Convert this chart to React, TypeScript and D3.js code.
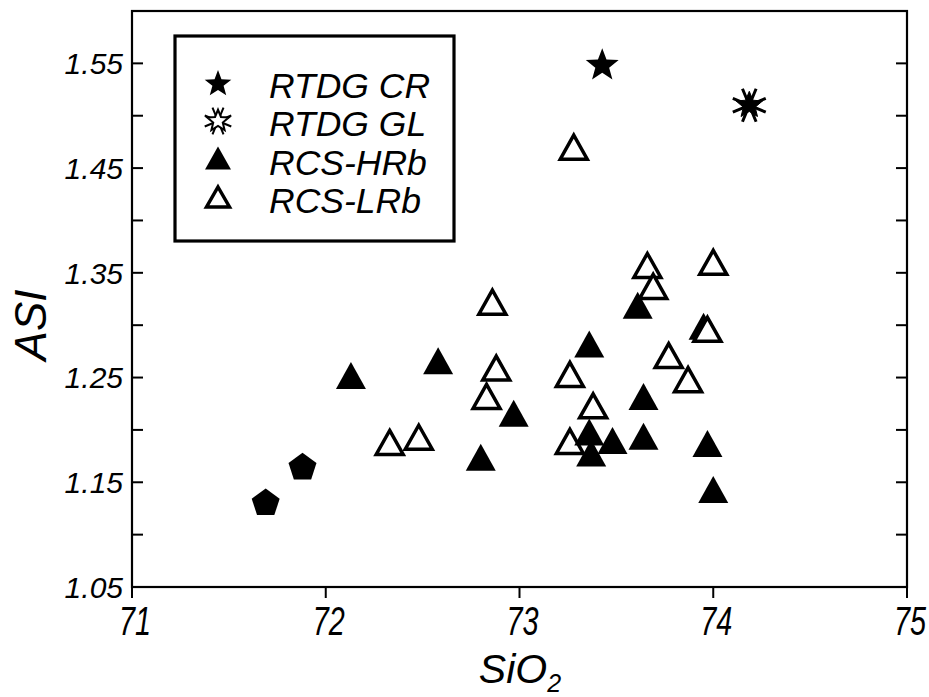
import React from "react";
import * as d3 from "d3";

const W = 929;
const H = 697;

// Data
const crX = [73.427];
const crY = [1.548];
const glX = [74.186];
const glY = [1.51];
const pentX = [71.69, 71.88];
const pentY = [1.131, 1.165];
const hrbX = [72.13, 72.58, 72.8, 72.97, 73.61, 73.95, 73.36, 73.64, 73.36, 73.48, 73.64, 73.37, 73.97, 74.0];
const hrbY = [1.252, 1.266, 1.174, 1.216, 1.319, 1.299, 1.282, 1.232, 1.198, 1.19, 1.194, 1.178, 1.187, 1.143];
const lrbX = [73.66, 74.0, 73.69, 72.86, 73.97, 73.77, 72.88, 73.26, 73.87, 72.83, 73.38, 73.26, 72.33, 72.48, 73.28];
const lrbY = [1.357, 1.36, 1.337, 1.322, 1.296, 1.271, 1.259, 1.253, 1.248, 1.232, 1.223, 1.189, 1.188, 1.193, 1.47];
// LRb points drawn above the filled triangles (index into lrb arrays)
const lrbOnTop = [4];

const xTicks = [71, 72, 73, 74, 75];
const yMajor = [1.05, 1.15, 1.25, 1.35, 1.45, 1.55];
const yMinor = [1.1, 1.2, 1.3, 1.4, 1.5];
const legendLabels = ["RTDG CR", "RTDG GL", "RCS-HRb", "RCS-LRb"];

const FONT = "'Liberation Sans', Arial, Helvetica, sans-serif";

const left = 132, right = 907, top = 11, bottom = 587;
const x = d3.scaleLinear().domain([71, 75]).range([left, right]);
const y = d3.scaleLinear().domain([1.05, 1.6]).range([bottom, top]);

function starPath(R: number, r: number) {
  const pts: [number, number][] = [];
  for (let i = 0; i < 10; i++) {
    const a = (Math.PI / 5) * i - Math.PI / 2;
    const rr = i % 2 === 0 ? R : r;
    pts.push([rr * Math.cos(a), rr * Math.sin(a)]);
  }
  return d3.line()(pts)! + "Z";
}
function polyPath(R: number, n: number) {
  const pts: [number, number][] = [];
  for (let i = 0; i < n; i++) {
    const a = ((2 * Math.PI) / n) * i - Math.PI / 2;
    pts.push([R * Math.cos(a), R * Math.sin(a)]);
  }
  return d3.line()(pts)! + "Z";
}
function triPath(w: number, h: number) {
  const pts: [number, number][] = [[0, -h / 2], [w / 2, h / 2], [-w / 2, h / 2]];
  return d3.line()(pts)! + "Z";
}
function asteriskPath(R: number) {
  let p = "";
  for (let i = 0; i < 4; i++) {
    const a = (Math.PI / 4) * i + Math.PI / 8;
    const dx = R * Math.cos(a), dy = R * Math.sin(a);
    p += `M${-dx},${-dy}L${dx},${dy}`;
  }
  return p;
}

const Star = ({ cx, cy, R }: { cx: number; cy: number; R: number }) => (
  <path transform={`translate(${cx},${cy})`} d={starPath(R, R * 0.42)} fill="#000" />
);
const GlStar = ({ cx, cy, R, open }: { cx: number; cy: number; R: number; open?: boolean }) => (
  <g transform={`translate(${cx},${cy})`}>
    <path d={asteriskPath(R * 1.15)} stroke="#000" strokeWidth={open ? 2 : 3} />
    <path d={starPath(R * 0.9, R * 0.4)} fill={open ? "#fff" : "#000"} stroke="#000" strokeWidth={open ? 2 : 1} />
  </g>
);
const FilledTri = ({ cx, cy, w, h }: { cx: number; cy: number; w: number; h: number }) => (
  <path transform={`translate(${cx},${cy})`} d={triPath(w, h)} fill="#000" />
);
const OpenTri = ({ cx, cy, w, h }: { cx: number; cy: number; w: number; h: number }) => (
  <path transform={`translate(${cx},${cy})`} d={triPath(w, h)} fill="#fff" stroke="#000" strokeWidth={3.5} strokeLinejoin="miter" />
);

export default function App() {
  const legendMarkerX = 218;
  const legendTextX = 269;
  const legendRowY = [82, 120, 158, 197];
  const legendBase = [97.5, 136, 174.5, 213];
  return (
    <svg width={W} height={H} style={{ position: "absolute", left: 0, top: 0, background: "#fff" }}>
      <rect x={0} y={0} width={W} height={H} fill="#fff" />
      {/* frame */}
      <rect x={left} y={top} width={right - left} height={bottom - top} fill="none" stroke="#000" strokeWidth={2.2} />
      {/* y ticks left & right (inward) */}
      {[...yMajor, ...yMinor].map((v, i) => (
        <g key={"yt" + i}>
          <line x1={left} x2={left + 11} y1={y(v)} y2={y(v)} stroke="#000" strokeWidth={2} />
          <line x1={right} x2={right - 11} y1={y(v)} y2={y(v)} stroke="#000" strokeWidth={2} />
        </g>
      ))}
      {yMajor.map((v, i) => (
        <text key={"yl" + i} x={123} y={y(v)} dy="0.36em" textAnchor="end" fontFamily={FONT} fontStyle="italic" fontSize={30}>
          {v.toFixed(2)}
        </text>
      ))}
      {/* x ticks outward */}
      {xTicks.map((v, i) => (
        <g key={"xt" + i}>
          <line x1={x(v)} x2={x(v)} y1={bottom} y2={bottom + 11} stroke="#000" strokeWidth={2} />
          <text x={0} y={0} transform={`translate(${x(v) + 3},${bottom + 48}) scale(0.72,1)`} textAnchor="middle" fontFamily={FONT} fontStyle="italic" fontSize={40}>
            {String(v)}
          </text>
        </g>
      ))}
      {/* axis titles */}
      <text transform={`translate(46,${325}) rotate(-90)`} textAnchor="middle" fontFamily={FONT} fontStyle="italic" fontSize={44}>
        ASI
      </text>
      <text x={520} y={683} textAnchor="middle" fontFamily={FONT} fontStyle="italic" fontSize={41}>
        SiO<tspan fontSize={25} dy={9}>2</tspan>
      </text>

      {/* data */}
      {lrbX.map((v, i) =>
        lrbOnTop.includes(i) ? null : <OpenTri key={"l" + i} cx={x(v)} cy={y(lrbY[i])} w={27} h={24} />
      )}
      {hrbX.map((v, i) => (
        <FilledTri key={"h" + i} cx={x(v)} cy={y(hrbY[i])} w={30} h={27} />
      ))}
      {lrbX.map((v, i) =>
        lrbOnTop.includes(i) ? <OpenTri key={"lt" + i} cx={x(v)} cy={y(lrbY[i])} w={27} h={24} /> : null
      )}
      {pentX.map((v, i) => (
        <path key={"p" + i} transform={`translate(${x(v)},${y(pentY[i]) + 1})`} d={polyPath(14.7, 5)} fill="#000" />
      ))}
      {crX.map((v, i) => (
        <Star key={"c" + i} cx={x(v)} cy={y(crY[i])} R={17.3} />
      ))}
      {glX.map((v, i) => (
        <GlStar key={"g" + i} cx={x(v)} cy={y(glY[i])} R={15.5} />
      ))}

      {/* legend */}
      <rect x={175} y={36} width={279} height={205} fill="#fff" stroke="#000" strokeWidth={3.2} />
      <Star cx={legendMarkerX} cy={legendRowY[0] + 2} R={14} />
      <GlStar cx={legendMarkerX} cy={legendRowY[1] + 1} R={12.5} open />
      <FilledTri cx={legendMarkerX} cy={legendRowY[2]} w={26} h={23} />
      <OpenTri cx={legendMarkerX} cy={legendRowY[3]} w={23} h={20} />
      {legendLabels.map((s, i) => (
        <text key={"lg" + i} x={legendTextX} y={legendBase[i]} fontFamily={FONT} fontStyle="italic" fontSize={35.5}>
          {s}
        </text>
      ))}
    </svg>
  );
}
